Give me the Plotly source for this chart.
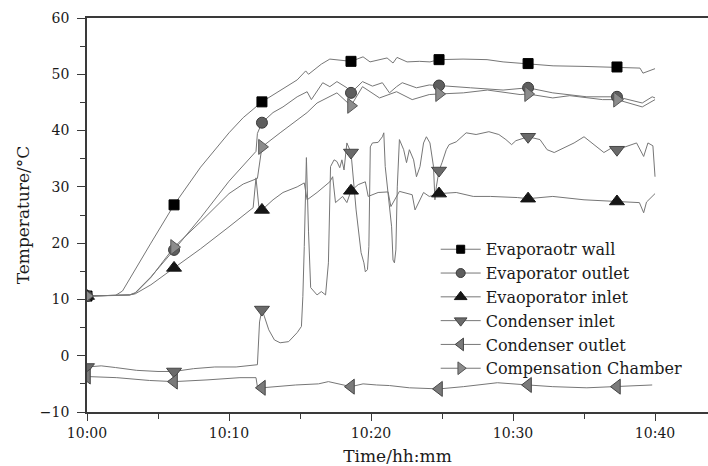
import plotly.graph_objects as go

# ---------------- data (minutes after 10:00, temperature in °C) ----------------
marker_times = [0, 6.13, 12.32, 18.59, 24.79, 31.06, 37.32]

wall_t = [0, 1.0, 2.0, 2.5, 3.5, 4.5, 6.13, 8.0, 10.0, 11.0, 12.32, 13.5, 14.8, 15.4, 15.6,
          16.5, 17.1, 18.59, 19.44, 19.93, 20.6, 21.13, 21.55, 21.83, 22.54, 23.4, 24.15,
          24.79, 26.48, 28.17, 29.3, 31.06, 32.82, 35.0, 37.32, 38.94, 39.15, 39.65, 40.0]
wall_v = [10.6, 10.6, 10.7, 11.5, 15.8, 20.0, 26.8, 33.5, 39.6, 42.3, 45.1, 47.0, 49.0, 50.6, 50.0,
          51.8, 52.7, 52.3, 53.1, 52.2, 52.6, 52.9, 52.0, 53.0, 52.2, 52.3, 52.2,
          52.6, 52.7, 52.6, 52.2, 51.9, 51.5, 51.4, 51.3, 51.1, 50.2, 50.7, 51.0]

out_t = [0, 1.5, 3.0, 3.4, 4.5, 6.13, 8.0, 10.0, 11.0, 11.9, 12.0, 12.32, 13.1, 13.8, 14.8,
         15.5, 15.8, 16.6, 17.1, 17.6, 18.3, 18.59, 19.4, 20.1, 20.8, 21.3, 21.8, 22.2, 23.2,
         24.1, 24.79, 26.5, 27.0, 29.3, 31.06, 32.8, 35.2, 37.32, 39.1, 39.8, 40.0]
out_v = [10.6, 10.7, 10.8, 11.2, 14.0, 18.8, 24.5, 31.0, 33.8, 36.3, 39.5, 41.4, 43.2, 44.2, 46.0,
         46.9, 45.5, 48.5, 47.8, 48.7, 47.6, 46.7, 48.7, 47.9, 48.5, 46.7, 47.8, 48.5, 47.6,
         48.1, 48.0, 47.6, 47.6, 47.2, 47.6, 46.7, 46.0, 46.0, 44.9, 46.0, 45.8]

inl_t = [0, 1.5, 3.0, 3.4, 4.5, 6.13, 8.0, 10.0, 11.3, 11.7, 11.9, 12.1, 12.32, 13.1, 13.8,
         14.8, 15.3, 15.5, 16.2, 17.1, 17.3, 17.5, 18.0, 18.3, 18.59, 19.1, 19.6, 19.8, 20.5,
         21.2, 21.4, 22.0, 22.9, 23.1, 23.7, 24.1, 24.79, 26.0, 27.2, 28.4, 30.3, 31.06, 32.8,
         35.0, 37.32, 38.9, 39.2, 39.4, 40.0]
inl_v = [10.6, 10.7, 10.8, 11.0, 12.6, 15.6, 19.0, 22.9, 25.6, 26.3, 31.6, 26.5, 25.9, 27.7, 29.0,
         30.0, 30.7, 27.7, 29.0, 30.9, 31.8, 27.2, 28.3, 27.2, 29.3, 30.4, 30.9, 28.3, 29.0,
         29.1, 26.5, 29.2, 28.6, 25.9, 29.0, 28.3, 28.8, 29.0, 28.3, 28.3, 28.1, 27.9, 28.3,
         27.7, 27.4, 27.2, 25.4, 27.3, 28.8]

cin_t = [0, 1.0, 2.0, 3.5, 5.0, 6.13, 7.5, 9.0, 10.5, 11.5, 12.0, 12.15, 12.32, 12.5, 12.8,
         13.2, 13.6, 14.2, 14.8, 15.1, 15.2, 15.3, 15.45, 15.6, 15.75, 16.2, 16.5, 16.8, 17.0,
         17.15, 17.4, 17.6, 17.8, 17.95, 18.1, 18.3, 18.59, 18.7, 18.95, 19.3, 19.5, 19.6,
         19.75, 19.85, 19.95, 20.1, 20.5, 20.8, 20.9, 21.0, 21.2, 21.45, 21.55, 21.65, 21.75,
         21.85, 22.0, 22.3, 22.5, 22.7, 23.0, 23.2, 23.45, 23.7, 23.9, 24.15, 24.4, 24.5,
         24.6, 24.79, 25.0, 25.3, 25.5, 26.0, 26.7, 27.4, 28.3, 29.0, 29.5, 29.9, 30.2, 31.06,
         31.9, 32.4, 32.9, 33.5, 34.3, 35.0, 35.9, 36.4, 37.0, 37.32, 38.7, 39.2, 39.5, 39.85,
         40.0]
cin_v = [-2.0, -1.8, -2.1, -2.6, -2.8, -2.8, -2.3, -2.0, -2.0, -1.7, -1.6, 6.0, 8.2, 6.9, 4.6,
         2.8, 2.3, 2.5, 4.1, 5.2, 10.5, 19.4, 35.2, 22.0, 12.1, 10.8, 11.4, 10.8, 16.5,
         33.6, 34.8, 34.5, 33.4, 34.8, 33.0, 37.8, 36.1, 33.0, 25.9, 18.3, 16.5, 14.9,
         15.3, 19.4, 37.1, 37.8, 37.9, 38.9, 39.6, 33.6, 29.0, 22.9, 17.0, 16.5, 18.8,
         30.0, 38.4, 36.6, 34.3, 36.6, 34.8, 31.8, 33.6, 37.8, 38.9, 37.8, 33.6, 27.7,
         30.0, 32.9, 34.3, 36.6, 37.5, 38.0, 39.6, 39.3, 39.8, 39.3, 38.4, 37.5, 38.2, 38.9,
         38.4, 36.6, 36.1, 36.8, 37.8, 38.9, 37.1, 36.1, 37.0, 36.6, 37.8, 35.4, 37.8, 37.3,
         31.8]

cout_t = [0, 2.1, 4.4, 6.13, 8.45, 10.77, 11.9, 12.0, 12.32, 14.7, 16.3, 17.0, 18.59, 19.44,
          20.4, 21.3, 22.7, 24.79, 26.5, 28.9, 31.06, 32.8, 35.2, 37.32, 38.7, 39.8]
cout_v = [-3.7, -3.9, -4.4, -4.6, -4.3, -3.9, -3.9, -5.5, -5.7, -5.2, -5.0, -4.6, -5.5, -5.0,
          -5.2, -5.3, -5.7, -5.9, -5.5, -4.8, -5.2, -5.5, -5.7, -5.5, -5.3, -5.2]

comp_t = [0, 1.5, 3.0, 3.4, 4.5, 6.13, 8.0, 10.0, 11.0, 12.0, 12.32, 13.6, 15.5, 16.2, 17.1,
          17.6, 18.59, 19.4, 20.6, 21.8, 22.9, 24.1, 24.79, 26.5, 28.2, 30.5, 31.06, 32.8,
          34.0, 36.3, 37.32, 39.1, 40.0]
comp_v = [10.6, 10.7, 10.8, 11.1, 13.9, 19.3, 23.8, 28.8, 30.5, 31.5, 37.1, 39.6, 43.2, 44.9, 46.0,
          46.7, 44.4, 47.8, 45.8, 46.9, 45.5, 46.4, 46.5, 46.7, 47.2, 46.4, 46.5, 45.8,
          46.2, 45.5, 45.5, 44.2, 45.5]

series_names = ["Evaporaotr wall", "Evaporator outlet", "Evaoporator inlet",
                "Condenser inlet", "Condenser outlet", "Compensation Chamber"]

tick_vals = [0, 10, 20, 30, 40]
tick_labels = ["10:00", "10:10", "10:20", "10:30", "10:40"]

# ---------------- styling ----------------
series = [
    (wall_t, wall_v, "square", "#000000", "#000000", 10),
    (out_t, out_v, "circle", "#5e5e5e", "#3a3a3a", 11),
    (inl_t, inl_v, "triangle-up", "#161616", "#161616", 13),
    (cin_t, cin_v, "triangle-down", "#6a6a6a", "#454545", 13),
    (cout_t, cout_v, "triangle-left", "#7a7a7a", "#454545", 13),
    (comp_t, comp_v, "triangle-right", "#8c8c8c", "#555555", 13),
]
LINE_COLOR = "#767676"
FONT = "DejaVu Serif"

fig = go.Figure()

# lines
for (t, v, sym, fc, lc, sz), name in zip(series, series_names):
    fig.add_trace(go.Scatter(x=t, y=v, mode="lines", line=dict(color=LINE_COLOR, width=1),
                             showlegend=False, hoverinfo="skip"))

# markers (sampled from the same data at the marker times)
for (t, v, sym, fc, lc, sz), name in zip(series, series_names):
    idx = [t.index(m) for m in marker_times]
    fig.add_trace(go.Scatter(x=[t[i] for i in idx], y=[v[i] for i in idx], mode="markers",
                             marker=dict(symbol=sym, color=fc, size=sz, line=dict(color=lc, width=1)),
                             showlegend=False))

# legend entries
for (t, v, sym, fc, lc, sz), name in zip(series, series_names):
    fig.add_trace(go.Scatter(x=[None], y=[None], mode="lines+markers", name=name,
                             line=dict(color=LINE_COLOR, width=1),
                             marker=dict(symbol=sym, color=fc, size=sz - 2, line=dict(color=lc, width=1))))

axis_color = "#3a3a3a"
fig.update_layout(
    width=708, height=466,
    margin=dict(l=87, r=0, t=18, b=54),
    paper_bgcolor="white", plot_bgcolor="rgba(0,0,0,0)",
    font=dict(family=FONT, color="#1a1a1a", size=14),
    showlegend=True,
    legend=dict(x=0.5615, y=0.456, xanchor="left", yanchor="top",
                bgcolor="rgba(0,0,0,0)", borderwidth=0,
                font=dict(family=FONT, size=16, color="#1a1a1a"),
                itemwidth=40, tracegroupgap=0),
    xaxis=dict(range=[0, 43.73], showgrid=False, zeroline=False,
               showline=True, linecolor=axis_color, linewidth=1.6, mirror=True,
               ticks="outside", ticklen=7, tickwidth=1.3, tickcolor=axis_color,
               tickmode="array", tickvals=tick_vals, ticktext=tick_labels,
               tickfont=dict(family=FONT, size=14),
               minor=dict(tickmode="array", tickvals=[5, 15, 25, 35], ticks="outside",
                          ticklen=5, tickwidth=1.3, tickcolor=axis_color),
               title=dict(text="Time/hh:mm", font=dict(family=FONT, size=17), standoff=12)),
    yaxis=dict(range=[-10, 60], showgrid=False, zeroline=False,
               showline=True, linecolor=axis_color, linewidth=1.6,
               ticks="outside", ticklen=8, tickwidth=1.3, tickcolor=axis_color,
               tickmode="array", tickvals=[-10, 0, 10, 20, 30, 40, 50, 60],
               tickfont=dict(family=FONT, size=14), ticklabelstandoff=5,
               minor=dict(tickmode="array", tickvals=[-5, 5, 15, 25, 35, 45, 55], ticks="outside",
                          ticklen=5, tickwidth=1.3, tickcolor=axis_color),
               title=dict(text="Temperature/°C", font=dict(family=FONT, size=17), standoff=6)),
)

fig.write_html("out.html")
